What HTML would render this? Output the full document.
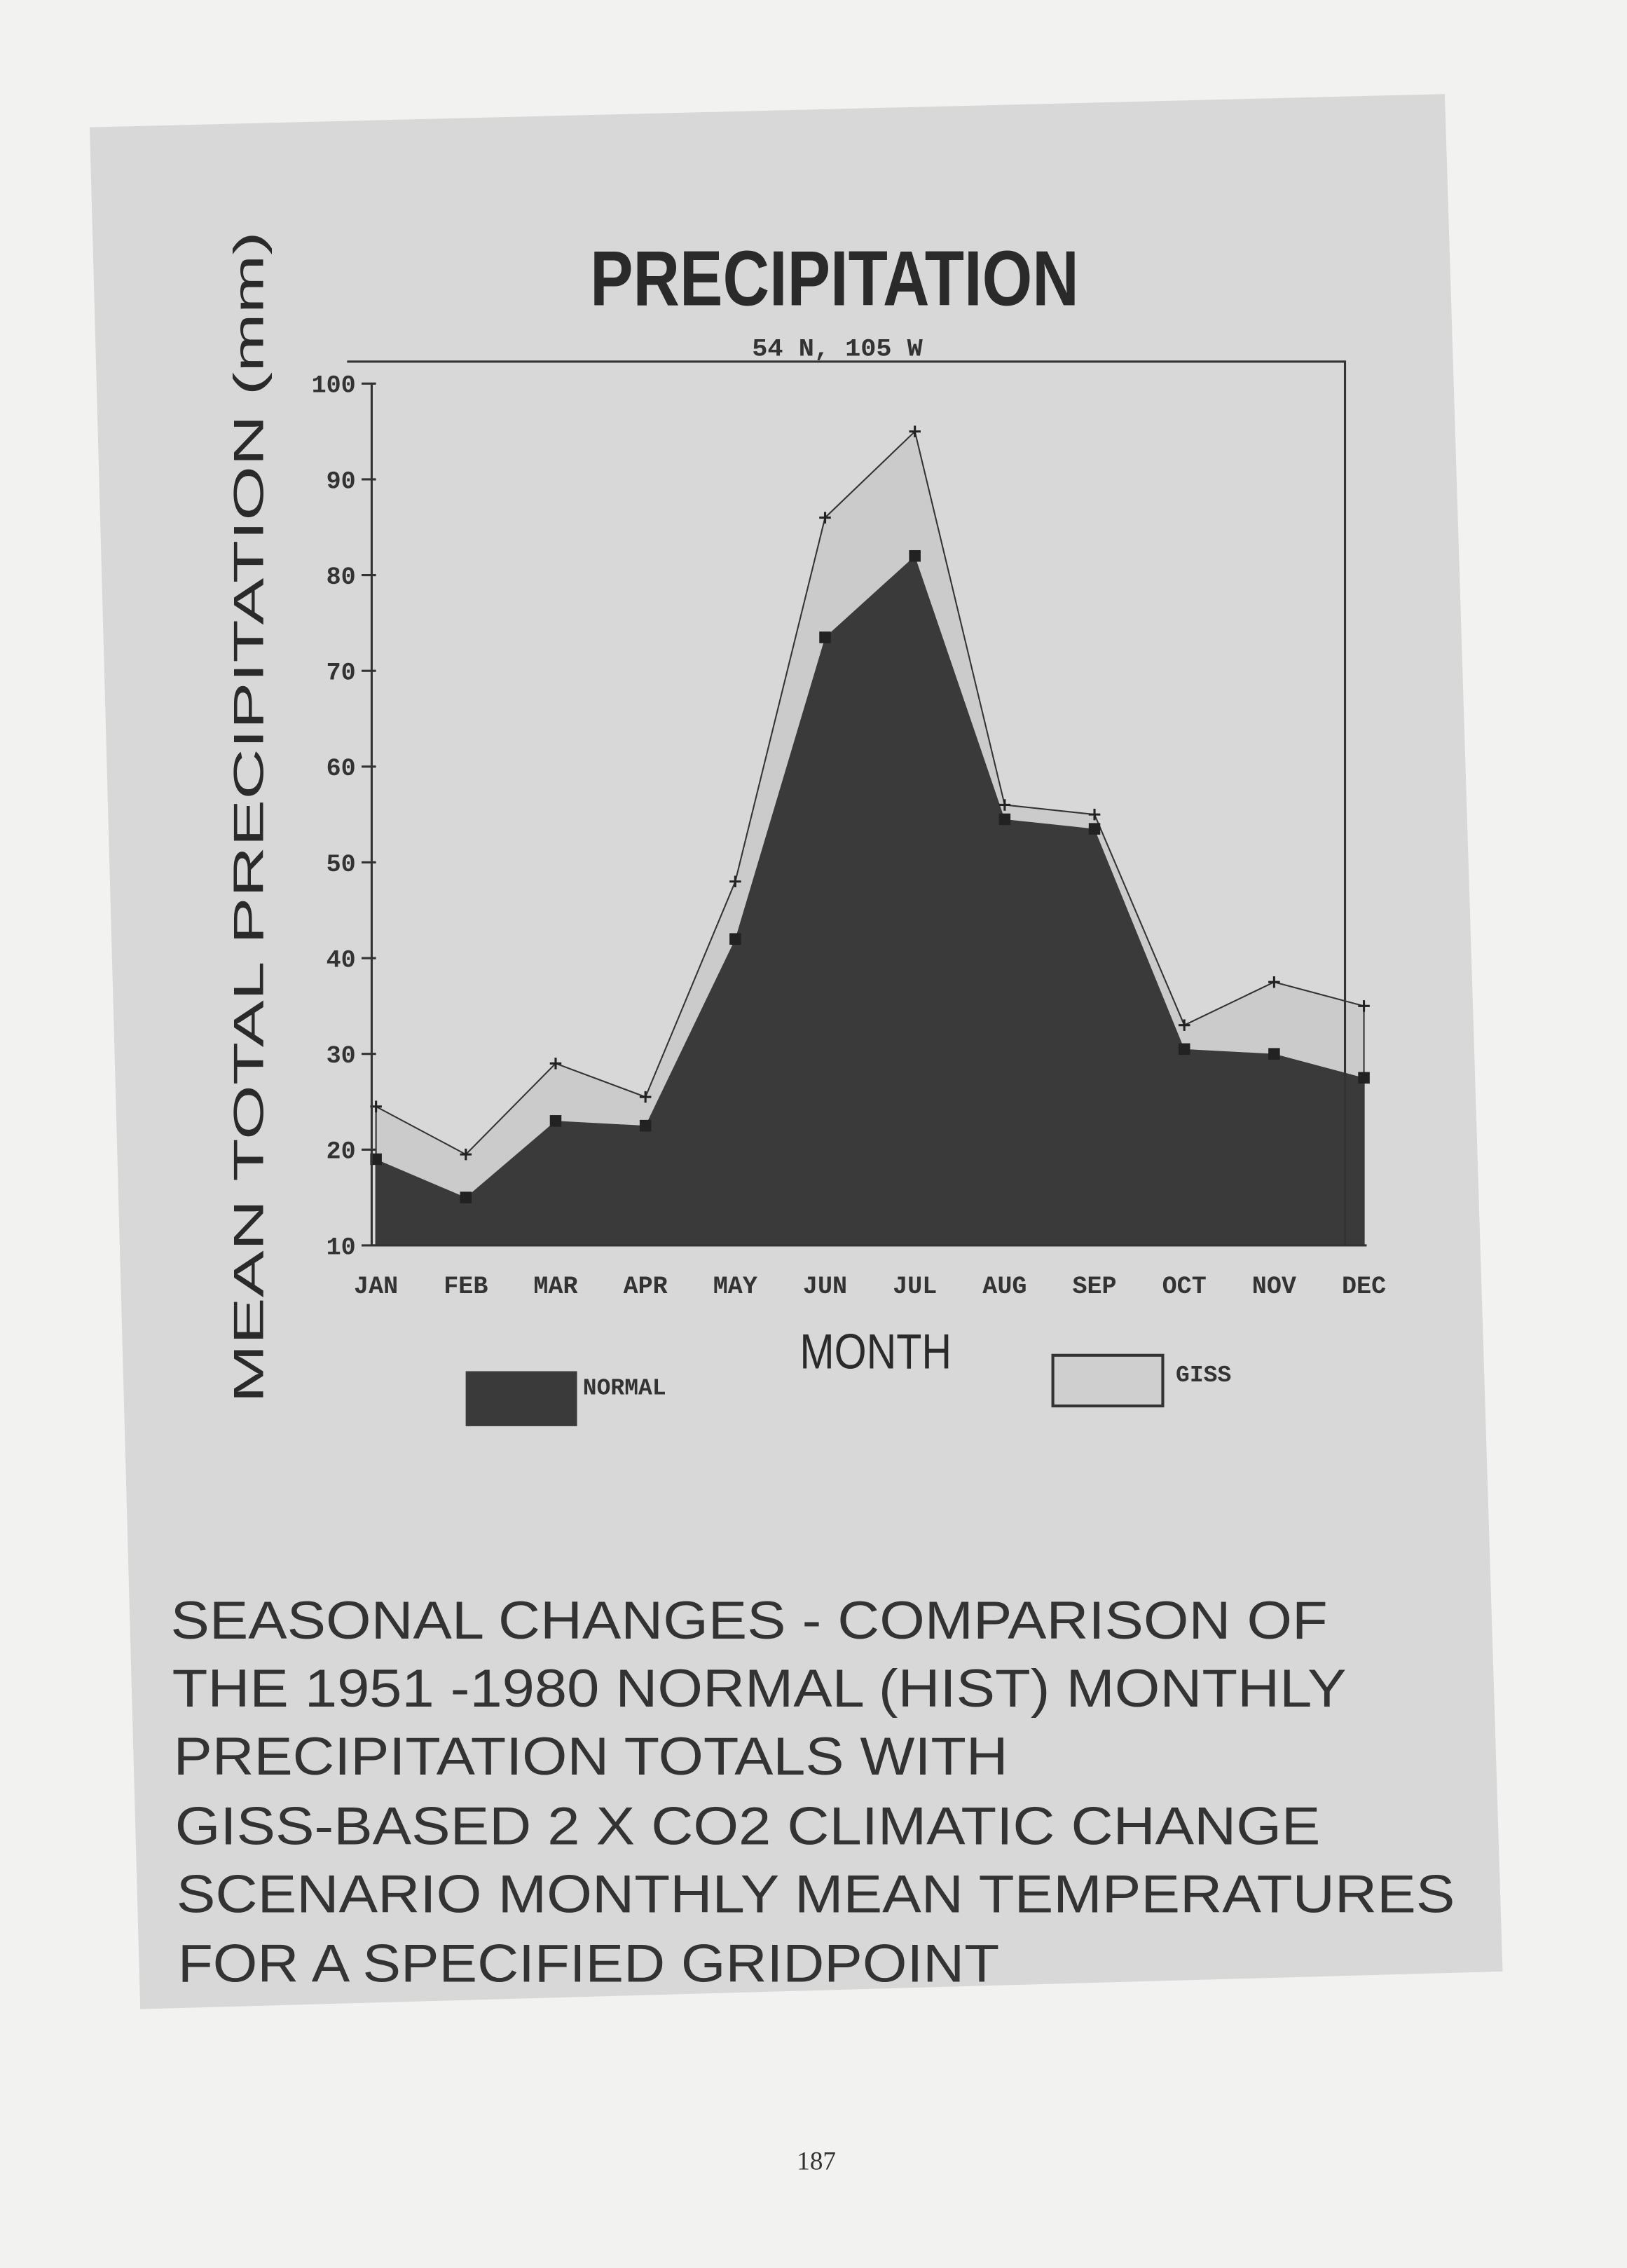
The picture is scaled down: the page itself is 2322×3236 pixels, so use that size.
<!DOCTYPE html>
<html><head><meta charset="utf-8"><style>
html,body{margin:0;padding:0;background:#f2f2f0;}
svg{display:block;}
</style></head><body>
<svg width="2322" height="3236" viewBox="0 0 1125 1568" preserveAspectRatio="none" xmlns="http://www.w3.org/2000/svg">
<rect x="0" y="0" width="1125" height="1568" fill="#f2f2f0"/>
<polygon points="62,88 999,65 1039,1363 97,1389" fill="#d8d8d8"/>
<text x="408" y="211" font-family="Liberation Sans, sans-serif" font-weight="bold" font-size="54" textLength="338" lengthAdjust="spacingAndGlyphs" fill="#2a2a2a">PRECIPITATION</text>
<text x="520" y="246" font-family="Liberation Mono, monospace" font-weight="bold" font-size="17" textLength="118" lengthAdjust="spacingAndGlyphs" fill="#333">54 N, 105 W</text>
<text transform="translate(182,970) rotate(-90)" font-family="Liberation Sans, sans-serif" font-size="29" textLength="810" lengthAdjust="spacingAndGlyphs" fill="#2a2a2a">MEAN TOTAL PRECIPITATION (mm)</text>
<g id="plot"></g>
<text x="553" y="946" font-family="Liberation Sans, sans-serif" font-size="34" textLength="105" lengthAdjust="spacingAndGlyphs" fill="#2a2a2a">MONTH</text>
<rect x="322" y="948" width="77" height="38" fill="#3a3a3a"/>
<text x="403" y="964" font-family="Liberation Mono, monospace" font-weight="bold" font-size="16" fill="#333">NORMAL</text>
<rect x="728" y="937" width="76" height="35" fill="#cfcfcf" stroke="#333" stroke-width="2"/>
<text x="813" y="955" font-family="Liberation Mono, monospace" font-weight="bold" font-size="16" fill="#333">GISS</text>
<g font-family="Liberation Sans, sans-serif" font-size="37" fill="#333">
<text x="118" y="1133" textLength="800" lengthAdjust="spacingAndGlyphs">SEASONAL CHANGES - COMPARISON OF</text>
<text x="119" y="1180" textLength="812" lengthAdjust="spacingAndGlyphs">THE 1951 -1980 NORMAL (HIST) MONTHLY</text>
<text x="120" y="1227" textLength="577" lengthAdjust="spacingAndGlyphs">PRECIPITATION TOTALS WITH</text>
<text x="121" y="1275" textLength="792" lengthAdjust="spacingAndGlyphs">GISS-BASED 2 X CO2 CLIMATIC CHANGE</text>
<text x="122" y="1322" textLength="884" lengthAdjust="spacingAndGlyphs">SCENARIO MONTHLY MEAN TEMPERATURES</text>
<text x="123" y="1370" textLength="568" lengthAdjust="spacingAndGlyphs">FOR A SPECIFIED GRIDPOINT</text>
</g>
<text x="551" y="1500" font-family="Liberation Serif, serif" font-size="18" fill="#333">187</text>
</svg>
<script>
const months=["JAN","FEB","MAR","APR","MAY","JUN","JUL","AUG","SEP","OCT","NOV","DEC"];
const normalValues=[19,15,23,22.5,42,73.5,82,54.5,53.5,30.5,30,27.5];
const gissValues=[24.5,19.5,29,25.5,48,86,95,56,55,33,37.5,35];
const yTicks=[10,20,30,40,50,60,70,80,90,100];
const NS="http://www.w3.org/2000/svg";
const g=document.getElementById('plot');
function x(i){return 260+i*62.1;}
function y(v){return 861-(v-10)*6.62;}
function mk(t,a){const e=document.createElementNS(NS,t);for(const k in a)e.setAttribute(k,a[k]);g.appendChild(e);return e;}
const base=y(10);
function area(vals){let d="M"+x(0)+","+base;vals.forEach((v,i)=>{d+=" L"+x(i)+","+y(v);});d+=" L"+x(vals.length-1)+","+base+" Z";return d;}
const ga=mk('path',{d:area(gissValues),fill:'#cbcbcb',stroke:'#333','stroke-width':1});


const na=mk('path',{d:area(normalValues),fill:'#3a3a3a'});


gissValues.forEach((v,i)=>{const m=mk('path',{d:`M${x(i)-4},${y(v)} h8 M${x(i)},${y(v)-4} v8`,stroke:'#222','stroke-width':1.5});

});
normalValues.forEach((v,i)=>{const m=mk('rect',{x:x(i)-4,y:y(v)-4,width:8,height:8,fill:'#222'});

});
const fr=mk('path',{d:`M240,250 H930 V861 M257,${y(100)} V861 H945`,fill:'none',stroke:'#333','stroke-width':1.5});


yTicks.forEach(t=>{const l=mk('line',{x1:250,x2:260,y1:y(t),y2:y(t),stroke:'#333','stroke-width':1.5});


const tx=mk('text',{x:246,y:y(t)+6,'text-anchor':'end','font-family':'Liberation Mono, monospace','font-weight':'bold','font-size':17,fill:'#333'});
tx.textContent=t;

});
months.forEach((m,i)=>{const tx=mk('text',{x:x(i),y:894,'text-anchor':'middle','font-family':'Liberation Mono, monospace','font-weight':'bold','font-size':17,fill:'#333'});
tx.textContent=m;

});
</script>
</body></html>
